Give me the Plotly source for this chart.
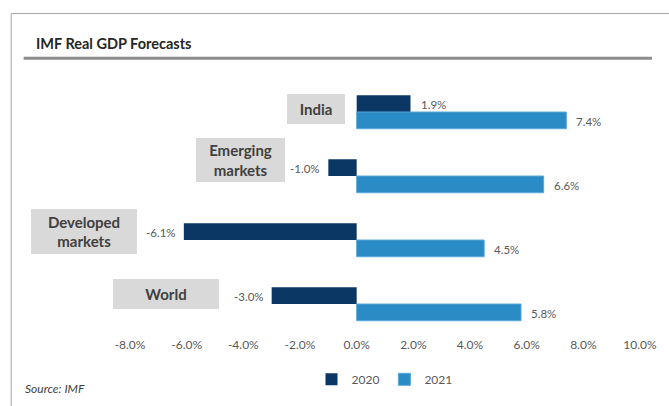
import plotly.graph_objects as go

# ---- data ----
categories = ["India", "Emerging markets", "Developed markets", "World"]
cat_labels = ["India", "Emerging<br>markets", "Developed<br>markets", "World"]
gdp_2020 = [1.9, -1.0, -6.1, -3.0]
gdp_2021 = [7.4, 6.6, 4.5, 5.8]
tick_vals = [-8, -6, -4, -2, 0, 2, 4, 6, 8, 10]
tick_text = ["-8.0%", "-6.0%", "-4.0%", "-2.0%", "0.0%", "2.0%", "4.0%", "6.0%", "8.0%", "10.0%"]

# ---- style ----
W, H = 669, 406
ML, MR, MT, MB = 130, 26, 80, 66
PW, PH = W - ML - MR, H - MT - MB
C2020 = "#0a3764"
C2021 = "#2a8bc5"
FONT = "Lato"
GREY_TXT = "#595959"
BARGAP = 0.477
HALF_OFF = (1 - BARGAP) / 4  # centre offset of each bar in a group (category units)

def px_x(p):
    return (p - ML) / PW

def px_y(p):
    return (H - MB - p) / PH

# label box styles: (xshift from bar end, yshift, width, height)
box_style = [(-12, 3, 58, 30), (-43, 16, 89, 44), (-47, 9, 106, 45), (-53, 10, 106, 30)]

fig = go.Figure()
fig.add_trace(go.Bar(
    name="2020", y=categories, x=gdp_2020, orientation="h",
    marker=dict(color=C2020, line=dict(width=0)),
))
fig.add_trace(go.Bar(
    name="2021", y=categories, x=gdp_2021, orientation="h",
    marker=dict(color=C2021, line=dict(width=1, color="#5aa8d8")),
))

annotations = []
# value labels
for series, off in ((gdp_2020, -HALF_OFF), (gdp_2021, HALF_OFF)):
    for i, v in enumerate(series):
        annotations.append(dict(
            x=v, y=i + off, xref="x", yref="y",
            xanchor="left" if v >= 0 else "right", yanchor="middle",
            xshift=8 if v >= 0 else -6, yshift=-1,
            text=f"{v:.1f}%", showarrow=False,
            font=dict(family=FONT, size=11.5, color=GREY_TXT),
        ))

# category label boxes
for cat, lab, v, (xs, ys, bw, bh) in zip(categories, cat_labels, gdp_2020, box_style):
    annotations.append(dict(
        x=min(v, 0), y=cat, xref="x", yref="y", xanchor="right", yanchor="middle",
        xshift=xs, yshift=ys, text=f"<b>{lab}</b>", showarrow=False,
        bgcolor="#d9d9d9", width=bw, height=bh, borderpad=0, borderwidth=0,
        font=dict(family=FONT, size=15, color="#404040"), align="center",
    ))

annotations.append(dict(
    x=px_x(33), y=px_y(43), xref="paper", yref="paper", xanchor="left", yanchor="middle",
    text="<b>IMF Real GDP Forecasts</b>", showarrow=False,
    font=dict(family=FONT, size=14.5, color="#262626"),
))
annotations.append(dict(
    x=px_x(22), y=px_y(393), xref="paper", yref="paper", xanchor="left", yanchor="middle",
    text="<i>Source: IMF</i>", showarrow=False,
    font=dict(family=FONT, size=12, color="#404040"),
))

shapes = [
    dict(type="rect", xref="paper", yref="paper", x0=px_x(10.5), x1=px_x(720),
         y0=px_y(12.5), y1=px_y(460), line=dict(color="#a6a6a6", width=1), layer="below"),
    dict(type="line", xref="paper", yref="paper", x0=px_x(23), x1=px_x(655),
         y0=px_y(58), y1=px_y(58), line=dict(color="#8c8c8c", width=3)),
]

fig.update_layout(
    width=W, height=H,
    margin=dict(l=ML, r=MR, t=MT, b=MB, pad=0),
    paper_bgcolor="white", plot_bgcolor="white",
    barmode="group", bargap=BARGAP, bargroupgap=0,
    font=dict(family=FONT, color=GREY_TXT),
    xaxis=dict(range=[-8, 10], tickvals=tick_vals, ticktext=tick_text,
               showgrid=False, zeroline=False, showline=False, ticks="",
               tickfont=dict(family=FONT, size=12, color=GREY_TXT), fixedrange=True),
    yaxis=dict(categoryorder="array", categoryarray=categories, range=[3.5, -0.5],
               showticklabels=False, showgrid=False, zeroline=False, showline=False,
               ticks="", fixedrange=True),
    legend=dict(orientation="h", x=px_x(386), xanchor="center", y=px_y(384), yanchor="middle",
                font=dict(family=FONT, size=12, color=GREY_TXT), itemwidth=30,
                traceorder="normal"),
    annotations=annotations, shapes=shapes,
    showlegend=True,
)

fig.write_html("out.html", config={"displayModeBar": False})
